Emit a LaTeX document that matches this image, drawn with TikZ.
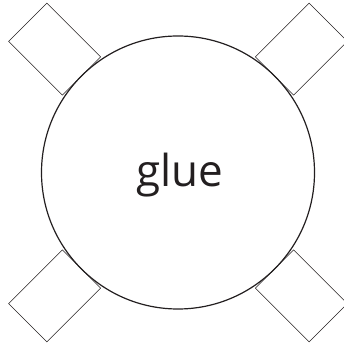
\documentclass[tikz,border=0pt]{standalone}
\usepackage{fontspec}
\setmainfont{Open Sans}
\usetikzlibrary{positioning}
\definecolor{glueInk}{HTML}{231F20}

\begin{document}
\begin{tikzpicture}[x=1pt,y=1pt,
    pad/.style={draw=glueInk,line width=0.6pt,minimum width=76pt,minimum height=54pt,
                inner sep=0pt,outer sep=0pt}]
  \clip (0,0) rectangle (344,347);
  \node[circle,draw=glueInk,line width=1.2pt,minimum size=273pt,inner sep=0pt,outer sep=0pt]
    (glue) at (178,174.5) {};
  \node[font=\fontsize{44}{50}\selectfont,text=glueInk,anchor=base,inner sep=0pt]
    (gluelabel) at ([xshift=2pt,yshift=-14pt]glue.center) {glue};
  % the four pads round the blob
  \node[pad,rotate=-45,anchor=east] (padNW) at (glue.135) {};
  \node[pad,rotate=45,anchor=west]  (padNE) at (glue.45) {};
  \node[pad,rotate=45,anchor=east]  (padSW) at (glue.225) {};
  \node[pad,rotate=-45,anchor=west] (padSE) at (glue.-45) {};
\end{tikzpicture}
\end{document}
